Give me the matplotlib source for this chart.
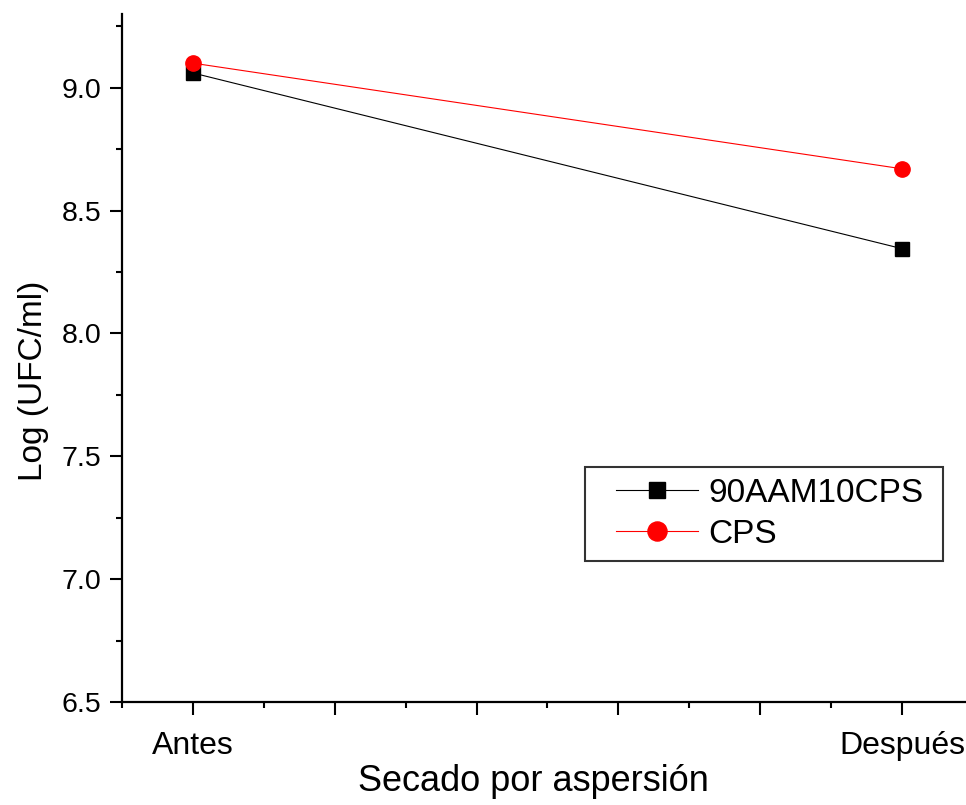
import numpy as np
import matplotlib
matplotlib.use("Agg")
import matplotlib.pyplot as plt
from matplotlib.ticker import MultipleLocator, FixedLocator, FixedFormatter
from matplotlib.legend_handler import HandlerLine2D

plt.rcParams['font.family'] = ['Liberation Sans', 'DejaVu Sans']

# datos
etapas = ["Antes", "Después"]
x_pos = [1, 2]
aam_cps = [9.06, 8.345]
cps = [9.10, 8.67]

fig = plt.figure(figsize=(9.66, 8.05), dpi=100)
# eje: izquierda en x=122 px, abajo en y=702 px, arriba en y=14 px
ax = fig.add_axes([122 / 966, 1 - 702 / 805, 1 - 122 / 966, (702 - 14) / 805])

l1, = ax.plot(x_pos, aam_cps, color='black', lw=0.8, marker='s', ms=9.5,
              label='90AAM10CPS', zorder=3)
l2, = ax.plot(x_pos, cps, color='red', lw=0.8, marker='o', ms=11,
              label='CPS', zorder=4)

ax.set_xlim(0.9, 2.0903)
ax.set_ylim(6.5, 9.3)

ax.spines['top'].set_visible(False)
ax.spines['right'].set_visible(False)
for s in ('left', 'bottom'):
    ax.spines[s].set_linewidth(1.6)

ax.xaxis.set_major_locator(FixedLocator([1.0, 1.2, 1.4, 1.6, 1.8, 2.0]))
ax.xaxis.set_major_formatter(FixedFormatter([etapas[0], "", "", "", "", etapas[1]]))
ax.xaxis.set_minor_locator(FixedLocator([0.9, 1.1, 1.3, 1.5, 1.7, 1.9]))
ax.yaxis.set_major_locator(MultipleLocator(0.5))
ax.yaxis.set_minor_locator(MultipleLocator(0.25))
ax.yaxis.set_major_formatter(matplotlib.ticker.FormatStrFormatter('%.1f'))

ax.tick_params(axis='both', which='major', direction='out', length=9, width=1.5)
ax.tick_params(axis='both', which='minor', direction='out', length=4.5, width=1.5)
ax.tick_params(axis='x', which='major', labelsize=23, pad=12)
ax.tick_params(axis='y', which='major', labelsize=20.5, pad=6)

ax.set_xlabel("Secado por aspersión", fontsize=26)
ax.set_ylabel("Log (UFC/ml)", fontsize=24)
ax.xaxis.set_label_coords(0.488, -0.09)
ax.yaxis.set_label_coords(-0.086, 0.467)

# leyenda: caja de 585 a 943 px en x, 467 a 560 px en y
hmap = {l1: HandlerLine2D(xpad=0.6), l2: HandlerLine2D(xpad=0.6)}
leg = ax.legend(handles=[l1, l2], handler_map=hmap, loc='upper left',
                bbox_to_anchor=(585 / 966, 1 - 560 / 805, (943 - 585) / 966, 93 / 805),
                bbox_transform=fig.transFigure, mode='expand',
                fontsize=24, frameon=True, fancybox=False, markerscale=1.25,
                handlelength=3.05, handletextpad=0.33,
                labelspacing=0.3, borderpad=0.33, borderaxespad=0)
leg.get_frame().set_edgecolor('black')
leg.get_frame().set_linewidth(1.5)

fig.savefig("out.png", dpi=100)
